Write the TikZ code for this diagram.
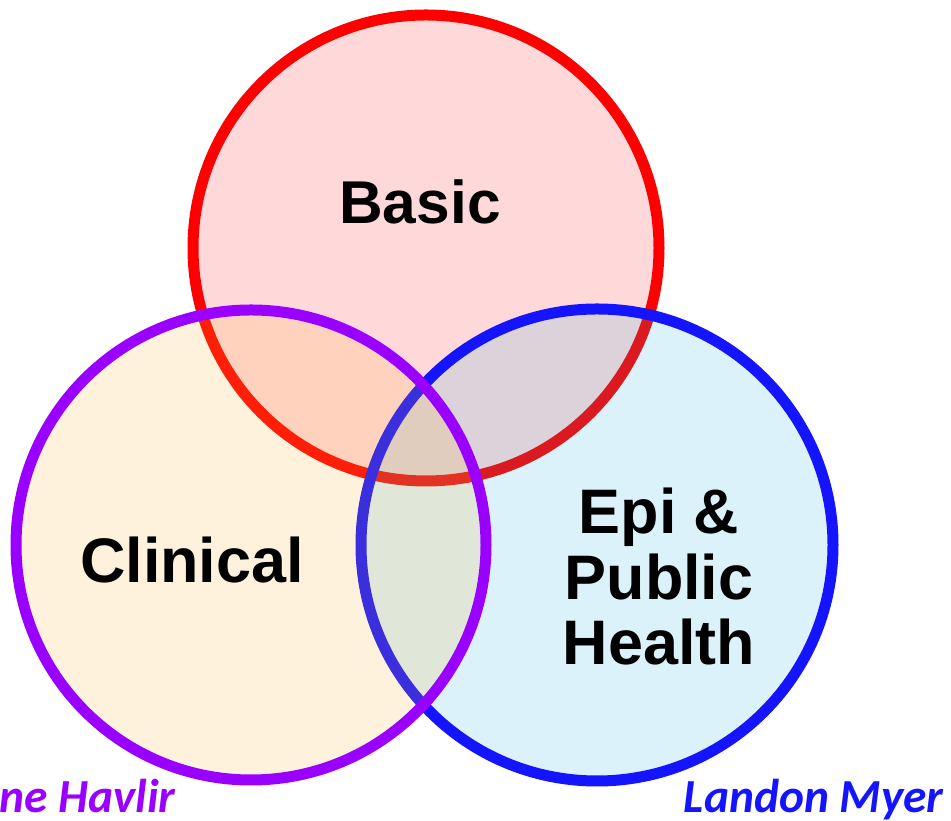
\documentclass[tikz,border=0pt]{standalone}
\usepackage{fontspec}
\setmainfont{Liberation Sans}
\newfontfamily\namefont{Carlito}
\definecolor{basicred}{RGB}{255,0,0}
\definecolor{epiblue}{RGB}{20,20,255}
\definecolor{clinpurple}{RGB}{153,0,255}
\definecolor{basicfill}{rgb}{1,0,0}
\definecolor{epifill}{rgb}{0.067,0.67,0.87}
\definecolor{clinfill}{rgb}{1,0.7,0.2}
\tikzset{
  field/.style={line width=0.22cm},
  fieldlabel/.style={font=\bfseries\fontsize{35.8}{37.5}\selectfont, align=center, inner sep=0pt},
  namelabel/.style={font=\namefont\bfseries\itshape\fontsize{27}{30}\selectfont, inner sep=0pt}
}
\begin{document}
\begin{tikzpicture}[x=0.02cm,y=0.02cm]
      \useasboundingbox (0,0) rectangle (951,821);
      \filldraw[field, draw=basicred, fill=basicfill, fill opacity=0.15] (426,573) circle (233);
      \filldraw[field, draw=epiblue, fill=epifill, fill opacity=0.15] (597,276) circle (236);
      \filldraw[field, draw=clinpurple, fill=clinfill, fill opacity=0.17] (251,276) circle (235);
      \node[fieldlabel, anchor=base] (basic) at (420,597) {\fontsize{34.4}{37}\selectfont Basic};
      \node[fieldlabel, anchor=base] (clinical) at (192,238) {Clinical};
      \node[fieldlabel, anchor=base] (epi) at (659,156) {Epi \&\\Public\\Health};
      \node[namelabel, anchor=base west, text=clinpurple] (havlir) at (-1,8) {ne Havlir};
      \node[namelabel, anchor=base east, text=epiblue] (myer) at (944,8) {Landon Myer};
\end{tikzpicture}
\end{document}
